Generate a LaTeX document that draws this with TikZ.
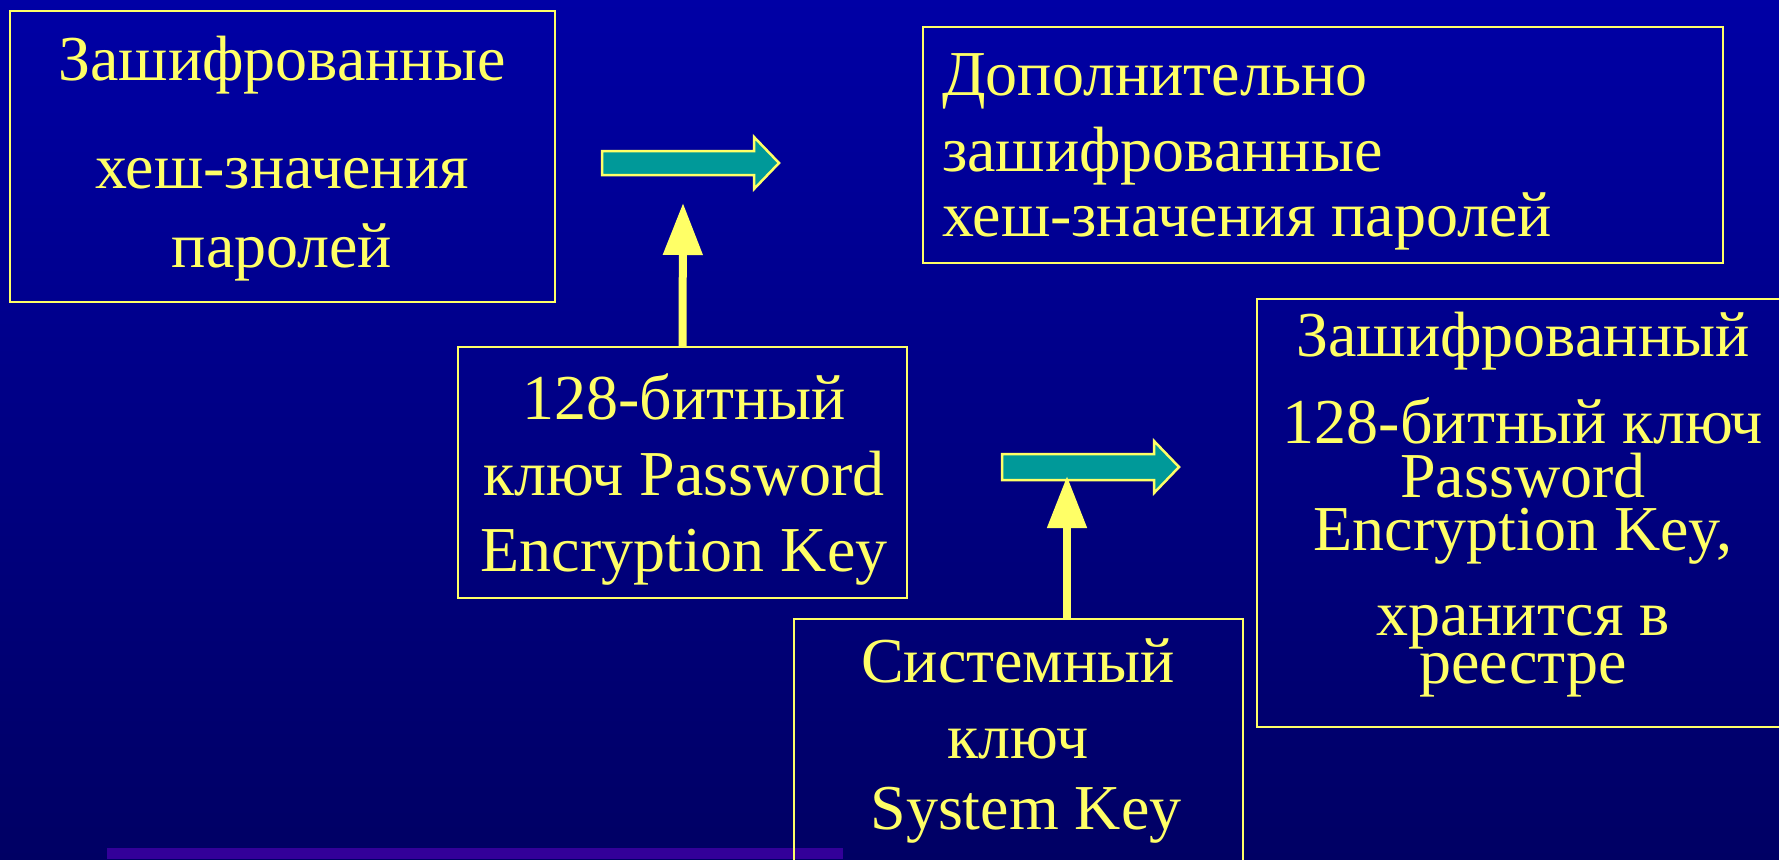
\documentclass[tikz,border=0pt]{standalone}
\usepackage{fontspec}
\setmainfont{Liberation Serif}
\usetikzlibrary{arrows.meta}

\begin{document}
\begin{tikzpicture}[x=1pt, y=-1pt,
  recuadro/.style={draw=amarillo, line width=2pt, inner sep=0pt},
  texto/.style={text=amarillo, inner sep=0pt, align=center,
    font=\fontsize{64}{76}\selectfont},
  bloque/.style={fill=turquesa, draw=amarillo, line width=2.5pt, line join=miter},
  flecha/.style={draw=amarillo, line width=8pt,
    -{Triangle[width=38pt, length=52pt]}}]
  \definecolor{amarillo}{RGB}{255,255,102}
  \definecolor{turquesa}{RGB}{0,153,153}
  \definecolor{violeta}{RGB}{51,0,153}
  \definecolor{fondoarriba}{RGB}{0,0,165}
  \definecolor{fondoabajo}{RGB}{0,0,100}
  \useasboundingbox (0,0) rectangle (1779,859);
  \clip (0,0) rectangle (1779,859);
  \shade[top color=fondoarriba, bottom color=fondoabajo] (0,0) rectangle (1779,859);
  \fill[violeta] (107,848) rectangle (843,859); % barra inferior

  % recuadros
  \node[recuadro, minimum width=545pt, minimum height=291pt] (hashbox) at (282.5,156.5) {};
  \node[recuadro, minimum width=800pt, minimum height=236pt] (extbox) at (1323,145) {};
  \node[recuadro, minimum width=449pt, minimum height=251pt] (pekbox) at (682.5,472.5) {};
  \node[recuadro, minimum width=449pt, minimum height=281pt] (syskeybox) at (1018.5,759.5) {};
  \node[recuadro, minimum width=543pt, minimum height=428pt] (regbox) at (1528.5,513) {};

  % textos
  \node[texto, anchor=north] (hashtxt) at (282,36)
    {Зашифрованные\\[32pt] хеш-значения\\[3pt] паролей};
  \node[texto, anchor=north west, align=left] (exttxt) at (942,53)
    {Дополнительно\\ зашифрованные\\[-11pt] хеш-значения паролей};
  \node[texto, anchor=north] (pektxt) at (684,373)
    {128-битный\\ ключ Password\\ Encryption Key};
  \node[texto, anchor=north] (syskeytxt) at (1018,638)
    {Системный\\ ключ\\[-5pt] \ System Key};
  \node[texto, anchor=north] (regtxt) at (1523,312)
    {Зашифрованный\\[11pt] 128-битный ключ\\[-22pt] Password\\[-23pt]
     Encryption Key,\\[9pt] хранится в\\[-28pt] реестре};

  % flechas de bloque
  \draw[bloque] (602,151) -- (754,151) -- (754,137) -- (779,163) --
    (754,189) -- (754,175) -- (602,175) -- cycle;
  \draw[bloque] (1002,454) -- (1154,454) -- (1154,441) -- (1179,467) --
    (1154,493) -- (1154,480) -- (1002,480) -- cycle;

  % flechas amarillas
  \coordinate (punta1) at (683,203);
  \coordinate (punta2) at (1067,476);
  \draw[flecha] (pekbox.north) -- (punta1);
  \draw[flecha] (syskeybox.north -| punta2) -- (punta2);
\end{tikzpicture}
\end{document}
